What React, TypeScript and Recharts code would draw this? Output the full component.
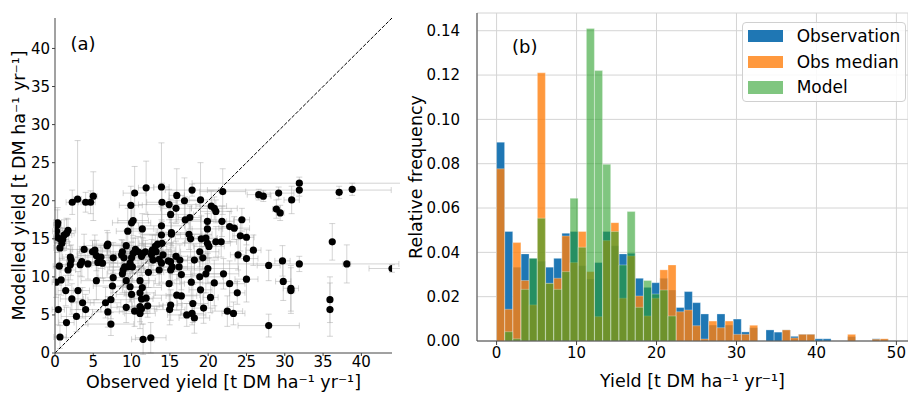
import React from 'react';
import {
  ScatterChart, Scatter, XAxis, YAxis, ErrorBar, ReferenceLine,
  BarChart, Bar, CartesianGrid, Legend, Label,
} from 'recharts';

const FONT = '"DejaVu Sans", "Liberation Sans", sans-serif';

// ---------- Panel (a): observed vs modelled yield ----------
const observedYield = [
  31.9, 31.9, 38.8, 37.1, 29.2, 26.6, 27.2, 30.9, 21.9, 17.9, 13.9, 11.9, 10.4, 15.9, 16.9, 19.0, 15.8, 14.9, 13.97, 9.9,
  5.0, 4.65, 4.0, 2.95, 2.25, 20.4, 20.8, 21.0, 28.9, 29.4, 15.1, 17.0, 17.6, 19.9, 21.8, 24.4, 10.2, 10.0, 11.4, 13.9,
  15.2, 15.2, 9.5, 19.9, 22.8, 23.4, 17.5, 17.7, 19.1, 19.7, 19.9, 20.1, 21.0, 21.7, 24.2, 25.0, 25.9, 36.2, 23.9, 25.0,
  29.7, 31.9, 27.9, 38.1, 44.0, 29.8, 30.8, 30.8, 25.0, 23.8, 22.8, 22.0, 20.8, 19.7, 19.96, 18.9, 19.3, 18.9, 18.2, 19.0,
  17.8, 20.3, 19.4, 18.0, 17.9, 18.2, 17.2, 16.5, 15.9, 16.5, 16.2, 16.3, 15.8, 15.1, 15.3, 15.1, 14.9, 15.1, 14.97, 14.8,
  14.1, 13.97, 13.9, 13.4, 13.1, 12.7, 12.6, 13.2, 13.6, 13.6, 13.9, 12.8, 12.2, 11.8, 11.5, 11.3, 10.85, 10.5, 10.2, 10.0,
  9.3, 8.8, 8.7, 9.0, 9.8, 9.1, 9.5, 10.1, 8.9, 8.8, 9.3, 7.6, 7.5, 6.9, 6.8, 7.6, 6.6, 7.3, 6.9, 7.3,
  6.2, 6.0, 5.6, 5.2, 5.4, 4.9, 5.4, 3.8, 3.5, 3.3, 4.3, 3.6, 4.0, 3.0, 2.8, 2.1, 2.0, 2.0, 2.2, 1.7,
  1.5, 1.7, 1.2, 1.0, 0.9, 0.65, 0.35, 0.3, 0.2, 0.3, 0.65, 0.56, 0.8, 0.13, 0.43, 0.65, 1.4, 1.5, 11.5, 12.5,
  11.3, 11.1, 11.1, 10.4, 9.3, 11.1, 11.3, 11.9, 12.1, 10.0, 9.8, 11.4, 11.1, 35.9, 35.9, 27.9, 23.3, 22.5,
];
const modelledYield = [
  22.3, 21.4, 21.5, 21.1, 21.0, 20.8, 20.6, 20.1, 21.2, 21.4, 21.8, 21.7, 21.0, 20.7, 20.0, 20.1, 19.0, 19.5, 19.8, 19.4,
  20.6, 19.8, 19.8, 20.2, 19.8, 19.3, 19.0, 18.6, 18.9, 18.4, 18.2, 17.5, 17.8, 17.3, 17.3, 17.5, 17.4, 17.1, 16.3, 16.7,
  15.8, 15.6, 16.0, 16.3, 16.6, 16.4, 15.6, 15.0, 15.0, 15.1, 14.4, 14.0, 14.6, 14.6, 15.4, 15.2, 13.5, 14.6, 12.9, 12.4,
  12.1, 11.7, 11.5, 11.7, 11.1, 9.4, 8.5, 8.2, 9.7, 7.9, 9.1, 10.4, 9.2, 10.4, 11.1, 10.0, 12.5, 13.3, 12.2, 8.3,
  9.3, 7.3, 5.9, 6.5, 5.2, 4.6, 5.0, 7.5, 7.6, 10.3, 11.3, 12.2, 12.7, 12.0, 11.3, 10.9, 9.1, 6.3, 5.7, 12.1,
  12.9, 14.4, 15.5, 14.3, 14.0, 13.5, 12.9, 13.3, 12.3, 10.9, 11.8, 12.2, 10.6, 13.3, 13.1, 12.7, 13.3, 13.6, 13.1, 12.5,
  14.1, 13.3, 12.9, 12.5, 11.8, 11.3, 11.3, 11.3, 10.9, 10.4, 9.5, 9.9, 8.8, 14.3, 14.1, 12.5, 6.6, 7.0, 5.4, 3.8,
  11.8, 12.6, 11.9, 13.5, 12.8, 13.3, 9.5, 13.6, 12.0, 11.6, 11.7, 6.6, 5.7, 8.2, 4.8, 12.2, 12.6, 11.6, 7.1, 10.9,
  15.7, 16.1, 15.5, 14.9, 14.4, 15.0, 17.1, 16.8, 16.0, 15.2, 13.8, 11.4, 9.6, 9.3, 5.7, 2.1, 8.2, 4.0, 1.8, 2.0,
  5.8, 5.2, 6.1, 5.5, 6.0, 7.9, 7.1, 7.2, 6.2, 7.7, 8.7, 8.6, 9.5, 7.0, 5.7, 3.6, 5.2, 5.5,
];
const observedErr = [
  14, 12, 0, 0, 2, 1.5, 1, 1, 3, 3.5, 1, 1, 1.5, 1, 2, 1.5, 2, 4, 2, 1.5,
  0.5, 0.6, 0.6, 0.5, 0.8, 2, 3, 2, 0.5, 0.5, 3, 2, 1.5, 2.5, 1.5, 1, 2, 2.5, 1.5, 3,
  2, 4, 1.5, 2, 1, 2, 3, 2, 2, 1.5, 3, 2, 1, 2, 1, 1, 1, 0, 1, 1.5,
  1, 13, 1.5, 0.5, 3, 1, 1, 0.5, 1.5, 1, 2, 2, 3, 2, 4, 3, 2, 2.5, 2, 1.5,
  1.5, 1, 1.5, 2, 1.5, 2, 2.5, 2, 3, 1.5, 2, 2.5, 3, 1.5, 2, 5, 2, 1.5, 2, 2.5,
  2, 3, 2.5, 2, 1.5, 3, 2, 2, 2.5, 2, 1.5, 3, 2, 2, 3, 2, 1.5, 2, 3, 2,
  2.5, 2, 3, 2, 2.5, 2, 3, 1.5, 2, 2, 3, 2, 2.5, 2, 3, 2, 2, 3, 2, 3,
  2, 2, 1.5, 2, 2.5, 2, 2, 1.5, 2, 1.5, 2, 1.5, 2, 1.5, 2, 1.5, 1, 1.5, 1.5, 1,
  1, 1, 1, 0.8, 1, 0.8, 0.5, 0.5, 0.5, 0.5, 0.8, 0.8, 1, 0.5, 0.8, 0.8, 1, 1, 1.5, 2,
  2, 2, 3, 2, 2, 2, 1.5, 2, 2, 2, 2, 2.5, 2, 0, 0, 4, 1.5, 2,
];
const modelledErr = [
  0.8, 0.8, 0.8, 0.8, 0.8, 0.7, 0.7, 1.8, 3, 0.8, 5.8, 3.5, 3.5, 3.5, 3, 4.9, 2, 2, 2.5, 2.5,
  3.2, 1.5, 1.3, 7.7, 1.6, 2, 1.5, 1.5, 1.2, 1, 2, 3, 1.5, 2, 2, 1.5, 2, 2.5, 2, 2.5,
  2, 1.5, 3, 2, 2, 1.5, 2, 2.5, 3, 2, 2, 1.5, 2, 2, 2, 1, 2, 2.4, 2, 2.5,
  2, 1, 2, 2.5, 0.5, 2.5, 3, 3, 3, 1.5, 3, 2, 3, 2.5, 2, 2, 1.5, 2, 2, 2,
  2.5, 2, 2, 2.5, 1.5, 2, 1.5, 2.5, 2, 2, 1.5, 2, 2, 2.5, 2, 2, 2.5, 2, 2, 1.5,
  2, 2, 2, 2, 1.5, 2, 2, 1.5, 2, 2, 2.5, 2, 2, 1.5, 2, 2.5, 2, 1.5, 2, 2,
  2, 1.5, 2, 2, 2, 2, 1.5, 2, 2, 2.5, 2, 2, 2, 1.5, 2, 2, 2, 2.5, 2, 1.5,
  2, 1.5, 2, 2, 2, 1.5, 2.5, 2, 2, 1.5, 2, 2, 2, 2.5, 2, 2, 1.5, 2, 2, 2,
  2, 1.5, 2, 1.5, 2, 1.5, 2, 2, 1.5, 2, 2, 2.5, 2, 2, 2, 1.5, 2, 2, 2, 2,
  2, 2, 2, 2, 2, 2, 2, 2, 1.5, 2, 2, 2, 2, 3, 3.5, 1.5, 1.5, 2,
];
const scatterTicks = [0, 5, 10, 15, 20, 25, 30, 35, 40];

// ---------- Panel (b): histogram of yields ----------
const binCenters = [
  0.51, 1.53, 2.55, 3.57, 4.59, 5.61, 6.64, 7.66, 8.68, 9.70, 10.72, 11.74, 12.76, 13.78, 14.80, 15.82,
  16.84, 17.86, 18.89, 19.91, 20.93, 21.95, 22.97, 23.99, 25.01, 26.03, 27.05, 28.07, 29.09, 30.11, 31.14, 32.16,
  33.18, 34.20, 35.22, 36.24, 37.26, 38.28, 39.30, 40.32, 41.34, 42.36, 43.39, 44.41, 45.43, 46.45, 47.47, 48.49,
];
const observationFreq = [
  0.0897, 0.0494, 0.0333, 0.0393, 0.0373, 0.036, 0.0333, 0.0373, 0.0486, 0.0494, 0.034, 0.028, 0.0354, 0.0494, 0.043, 0.0393,
  0.0396, 0.0283, 0.0242, 0.0263, 0.0283, 0.023, 0.0151, 0.0223, 0.0173, 0.0122, 0.0072, 0.0122, 0.0072, 0.0099, 0.0041, 0.006,
  0, 0.005, 0.004, 0.005, 0.0021, 0.003, 0.003, 0.001, 0.001, 0, 0, 0.002, 0, 0, 0.001, 0.0008,
];
const obsMedianFreq = [
  0.0777, 0.0143, 0.0444, 0.0273, 0.0163, 0.121, 0.026, 0.0283, 0.0474, 0.0354, 0.0494, 0.0313, 0.011, 0.0453, 0.0534, 0.0193,
  0.0384, 0.0203, 0.0113, 0.0193, 0.0321, 0.0343, 0.0132, 0.014, 0.0069, 0.0009, 0.009, 0.006, 0.009, 0.003, 0.003, 0.0071,
  0, 0, 0, 0.005, 0.0014, 0.003, 0.003, 0, 0, 0, 0, 0.003, 0, 0, 0.0008, 0.001,
];
const modelFreq = [
  0, 0.0042, 0.001, 0.0233, 0.0373, 0.0554, 0.026, 0.0233, 0.0313, 0.0644, 0.0423, 0.141, 0.122, 0.0797, 0.0494, 0.0343,
  0.0584, 0.0152, 0.0273, 0.0212, 0.023, 0.0113, 0, 0, 0, 0, 0, 0, 0, 0, 0, 0,
  0, 0, 0, 0, 0, 0, 0, 0, 0, 0, 0, 0, 0, 0, 0, 0,
];
const histXTicks = [0, 10, 20, 30, 40, 50];
const histYTicks = [0, 0.02, 0.04, 0.06, 0.08, 0.1, 0.12, 0.14];

const SERIES = [
  { key: 'obs', name: 'Observation', color: '#1f77b4', opacity: 1, axis: 'obs' },
  { key: 'med', name: 'Obs median', color: '#ff7f0e', opacity: 0.8, axis: 'med' },
  { key: 'mod', name: 'Model', color: '#2ca02c', opacity: 0.6, axis: 'mod' },
];

const scatterData = observedYield.map((x, i) => ({
  x, y: modelledYield[i], ex: observedErr[i], ey: modelledErr[i],
}));
const histData = binCenters.map((x, i) => ({
  x, obs: observationFreq[i], med: obsMedianFreq[i], mod: modelFreq[i],
}));

const UNIT = 't DM ha\u207B\u00B9 yr\u207B\u00B9';
const TICK = { fontSize: 15, fill: '#000', fontFamily: FONT };
const SPINE = '#444';
const LABEL_SIZE = 17.5;

function AxisTitle(props: any) {
  const { viewBox, text, pos, vertical } = props;
  if (!viewBox) return null;
  const { x, y, width, height } = viewBox;
  if (vertical) {
    const tx = x + pos;
    const ty = y + height / 2;
    return (
      <text x={tx} y={ty} transform={`rotate(-90 ${tx} ${ty})`} textAnchor="middle"
        fontSize={LABEL_SIZE} fill="#000" fontFamily={FONT}>{text}</text>
    );
  }
  const tx = x + width / 2;
  const ty = y + pos;
  return (
    <text x={tx} y={ty} textAnchor="middle" fontSize={LABEL_SIZE} fill="#000" fontFamily={FONT}>{text}</text>
  );
}

function Dot(props: any) {
  const { cx, cy } = props;
  if (cx == null || cy == null) return null;
  return <circle cx={cx} cy={cy} r={3.6} fill="#000" />;
}

function HistLegend() {
  return (
    <div style={{
      boxSizing: 'border-box', width: 164, height: 80, border: '1px solid #d0d0d0', borderRadius: 4,
      background: 'rgba(255,255,255,0.85)', fontFamily: FONT, fontSize: 17, color: '#000', paddingLeft: 5,
    }}>
      {SERIES.map((s) => (
        <div key={s.key} style={{ display: 'flex', alignItems: 'center', height: 25.8 }}>
          <div style={{ width: 35, height: 12.4, background: s.color, opacity: s.opacity, marginRight: 13.7 }} />
          <span style={{ lineHeight: '18px', whiteSpace: 'nowrap' }}>{s.name}</span>
        </div>
      ))}
    </div>
  );
}

export default function App() {
  return (
    <div style={{
      position: 'absolute', left: 0, top: 0, width: 908, height: 393, overflow: 'hidden',
      background: '#fff', fontFamily: FONT,
    }}>
      {/* Panel (a) */}
      <div style={{ position: 'absolute', left: 0, top: 0 }}>
        <ScatterChart width={400} height={393} margin={{ top: 18, right: 8, bottom: 0, left: 0 }}>
          <XAxis type="number" dataKey="x" domain={[0, 44]} ticks={scatterTicks} interval={0}
            allowDataOverflow height={40} tickSize={3} tickMargin={0} tick={TICK} stroke={SPINE}>
            <Label content={(p: any) => <AxisTitle {...p} text={`Observed yield [${UNIT}]`} pos={34.5} />} />
          </XAxis>
          <YAxis type="number" dataKey="y" domain={[0, 44]} ticks={scatterTicks} interval={0}
            allowDataOverflow width={55} tickSize={3} tickMargin={2} tick={TICK} stroke={SPINE}>
            <Label content={(p: any) => <AxisTitle {...p} text={`Modelled yield [${UNIT}]`} pos={25} vertical />} />
          </YAxis>
          <XAxis xAxisId="top" orientation="top" type="number" domain={[0, 44]} height={0}
            tick={false} tickLine={false} stroke={SPINE} />
          <YAxis yAxisId="right" orientation="right" type="number" domain={[0, 44]} width={0}
            tick={false} tickLine={false} stroke={SPINE} />
          <Scatter data={scatterData} fill="#000" shape={<Dot />} isAnimationActive={false}>
            <ErrorBar dataKey="ex" direction="x" width={3} stroke="#a0a0a0" strokeOpacity={0.45} strokeWidth={1} />
            <ErrorBar dataKey="ey" direction="y" width={3} stroke="#a0a0a0" strokeOpacity={0.45} strokeWidth={1} />
          </Scatter>
          <ReferenceLine segment={[{ x: 0, y: 0 }, { x: 44, y: 44 }]} stroke="#000" strokeWidth={1}
            strokeDasharray="3.7 1.6" />
        </ScatterChart>
        <div style={{ position: 'absolute', left: 70.4, top: 35.2, fontSize: 18, lineHeight: '18px' }}>(a)</div>
      </div>

      {/* Panel (b) */}
      <div style={{ position: 'absolute', left: 400, top: 0 }}>
        <BarChart width={508} height={393} data={histData} margin={{ top: 13, right: 0, bottom: 0, left: 0 }}
          barCategoryGap={0} barGap={0}>
          <CartesianGrid stroke="#d4d4d4" strokeWidth={1} xAxisId="obs" />
          <XAxis xAxisId="obs" type="number" dataKey="x" domain={[-2.45, 51.45]} ticks={histXTicks} interval={0}
            allowDataOverflow height={52} tickSize={4} tickMargin={2} tick={TICK} stroke={SPINE}>
            <Label content={(p: any) => <AxisTitle {...p} text={`Yield [${UNIT}]`} pos={45.5} />} />
          </XAxis>
          <XAxis xAxisId="med" type="number" dataKey="x" domain={[-2.45, 51.45]} allowDataOverflow hide height={0} />
          <XAxis xAxisId="mod" type="number" dataKey="x" domain={[-2.45, 51.45]} allowDataOverflow hide height={0} />
          <XAxis xAxisId="top" orientation="top" type="number" domain={[-2.45, 51.45]} height={0}
            tick={false} tickLine={false} stroke="#888" />
          <YAxis type="number" domain={[0, 0.148]} ticks={histYTicks} interval={0} allowDataOverflow width={77}
            tickSize={0} tickMargin={17} tick={TICK} stroke={SPINE} tickFormatter={(v: number) => v.toFixed(2)}>
            <Label content={(p: any) => <AxisTitle {...p} text="Relative frequency" pos={22} vertical />} />
          </YAxis>
          <YAxis yAxisId="right" orientation="right" type="number" domain={[0, 0.148]} width={0}
            tick={false} tickLine={false} stroke="#888" />
          {SERIES.map((s) => (
            <Bar key={s.key} dataKey={s.key} name={s.name} xAxisId={s.axis} fill={s.color} fillOpacity={s.opacity}
              stroke="#ffffff" strokeOpacity={0.5} strokeWidth={0.6} isAnimationActive={false} />
          ))}
          <Legend layout="vertical" align="center" verticalAlign="middle" content={() => <HistLegend />}
            wrapperStyle={{ left: 342, top: 22, width: 164, height: 80 }} />
        </BarChart>
        <div style={{ position: 'absolute', left: 112, top: 37.5, fontSize: 18, lineHeight: '18px' }}>(b)</div>
      </div>
    </div>
  );
}
